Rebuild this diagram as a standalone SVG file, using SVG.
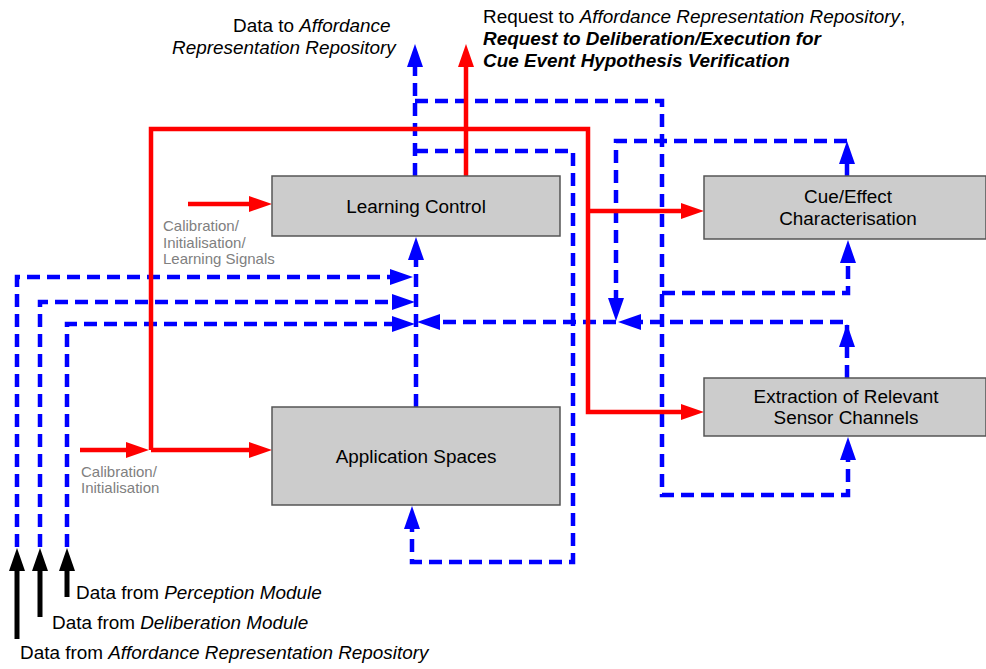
<svg xmlns="http://www.w3.org/2000/svg" xmlns:xlink="http://www.w3.org/1999/xlink" width="986" height="669" viewBox="0 0 986 669">
<style>
.box{fill:#cccccc;stroke:#555555;stroke-width:1.5}
.lbl{font-family:"Liberation Sans",Arial,sans-serif;font-size:18.9px;fill:#000000}
.gray{font-family:"Liberation Sans",Arial,sans-serif;font-size:15px;fill:#808080}
.blue{fill:none;stroke:#0000ff;stroke-width:4.5;stroke-dasharray:13 7}
.red{fill:none;stroke:#ff0000;stroke-width:4.5}
.blk{fill:none;stroke:#000000;stroke-width:5}
.bh{fill:#0000ff}
.rh{fill:#ff0000}
.kh{fill:#000000}
.it{font-style:italic}
.bi{font-style:italic;font-weight:bold}
</style>
<defs>
<path id="ah" d="M0,0 L-23,-8 L-23,8 Z"/>
</defs>

<g id="connectors">
<!-- blue dashed -->
<path class="blue" d="M415,176 V60"/>
<path class="blue" d="M415,101 H662 V495 H848 V450"/>
<path class="blue" d="M662,293 H848 V255"/>
<path class="blue" d="M415,151 H573 V562 H412 V520"/>
<path class="blue" d="M847,176 V150"/>
<path class="blue" d="M847,141 H616 V310"/>
<path class="blue" d="M847,378 V322 H630"/>
<path class="blue" d="M616,322 H430"/>
<path class="blue" d="M416,407 V250"/>
<path class="blue" d="M17,547 V277 H400"/>
<path class="blue" d="M40,547 V302 H400"/>
<path class="blue" d="M67,547 V324 H400"/>
<use xlink:href="#ah" class="bh" transform="translate(415,44) rotate(-90)"/>
<use xlink:href="#ah" class="bh" transform="translate(848,437) rotate(-90)"/>
<use xlink:href="#ah" class="bh" transform="translate(848,240) rotate(-90)"/>
<use xlink:href="#ah" class="bh" transform="translate(412,506) rotate(-90)"/>
<use xlink:href="#ah" class="bh" transform="translate(847,141) rotate(-90)"/>
<use xlink:href="#ah" class="bh" transform="translate(616,321) rotate(90)"/>
<use xlink:href="#ah" class="bh" transform="translate(618,322) rotate(180)"/>
<use xlink:href="#ah" class="bh" transform="translate(847,324) rotate(-90)"/>
<use xlink:href="#ah" class="bh" transform="translate(417,322) rotate(180)"/>
<use xlink:href="#ah" class="bh" transform="translate(416,237) rotate(-90)"/>
<use xlink:href="#ah" class="bh" transform="translate(413,277)"/>
<use xlink:href="#ah" class="bh" transform="translate(415,302)"/>
<use xlink:href="#ah" class="bh" transform="translate(415,324)"/>
<!-- red -->
<path class="red" d="M188,204 H255"/>
<path class="red" d="M80,450 H132"/>
<path class="red" d="M151,450 V129 H588 V412 H688"/>
<path class="red" d="M588,211 H688"/>
<path class="red" d="M151,450 H255"/>
<path class="red" d="M466,176 V60"/>
<use xlink:href="#ah" class="rh" transform="translate(272,204)"/>
<use xlink:href="#ah" class="rh" transform="translate(149,450)"/>
<use xlink:href="#ah" class="rh" transform="translate(272,450)"/>
<use xlink:href="#ah" class="rh" transform="translate(704,211)"/>
<use xlink:href="#ah" class="rh" transform="translate(704,412)"/>
<use xlink:href="#ah" class="rh" transform="translate(466,44) rotate(-90)"/>
<!-- black -->
<path class="blk" d="M17,639 V565"/>
<path class="blk" d="M40,617 V565"/>
<path class="blk" d="M67,597 V565"/>
<use xlink:href="#ah" class="kh" transform="translate(17,548) rotate(-90)"/>
<use xlink:href="#ah" class="kh" transform="translate(40,548) rotate(-90)"/>
<use xlink:href="#ah" class="kh" transform="translate(67,548) rotate(-90)"/>
</g>

<g id="learning-control">
<rect class="box" x="272" y="176" width="288" height="60"/>
<text class="lbl" x="416" y="213" text-anchor="middle">Learning Control</text>
</g>
<g id="application-spaces">
<rect class="box" x="272" y="407" width="288" height="98"/>
<text class="lbl" x="416" y="463" text-anchor="middle">Application Spaces</text>
</g>
<g id="cue-effect">
<rect class="box" x="704" y="176" width="282" height="63"/>
<text class="lbl" x="848" y="203" text-anchor="middle">Cue/Effect</text>
<text class="lbl" x="848" y="225" text-anchor="middle">Characterisation</text>
</g>
<g id="extraction">
<rect class="box" x="704" y="378" width="282" height="58"/>
<text class="lbl" x="846" y="403" text-anchor="middle">Extraction of Relevant</text>
<text class="lbl" x="846" y="424" text-anchor="middle">Sensor Channels</text>
</g>

<g id="labels">
<text class="lbl" x="233" y="32">Data to <tspan class="it">Affordance</tspan></text>
<text class="lbl it" x="172" y="54">Representation Repository</text>
<text class="lbl" x="483" y="23">Request to <tspan class="it">Affordance Representation Repository</tspan>,</text>
<text class="lbl bi" x="483" y="45">Request to Deliberation/Execution for</text>
<text class="lbl bi" x="483" y="67">Cue Event Hypothesis Verification</text>
<text class="gray" x="163" y="231">Calibration/</text>
<text class="gray" x="163" y="248">Initialisation/</text>
<text class="gray" x="163" y="264">Learning Signals</text>
<text class="gray" x="81" y="477">Calibration/</text>
<text class="gray" x="81" y="493">Initialisation</text>
<text class="lbl" x="76" y="599">Data from <tspan class="it">Perception Module</tspan></text>
<text class="lbl" x="52" y="629">Data from <tspan class="it">Deliberation Module</tspan></text>
<text class="lbl" x="20" y="659">Data from <tspan class="it">Affordance Representation Repository</tspan></text>
</g>
</svg>
